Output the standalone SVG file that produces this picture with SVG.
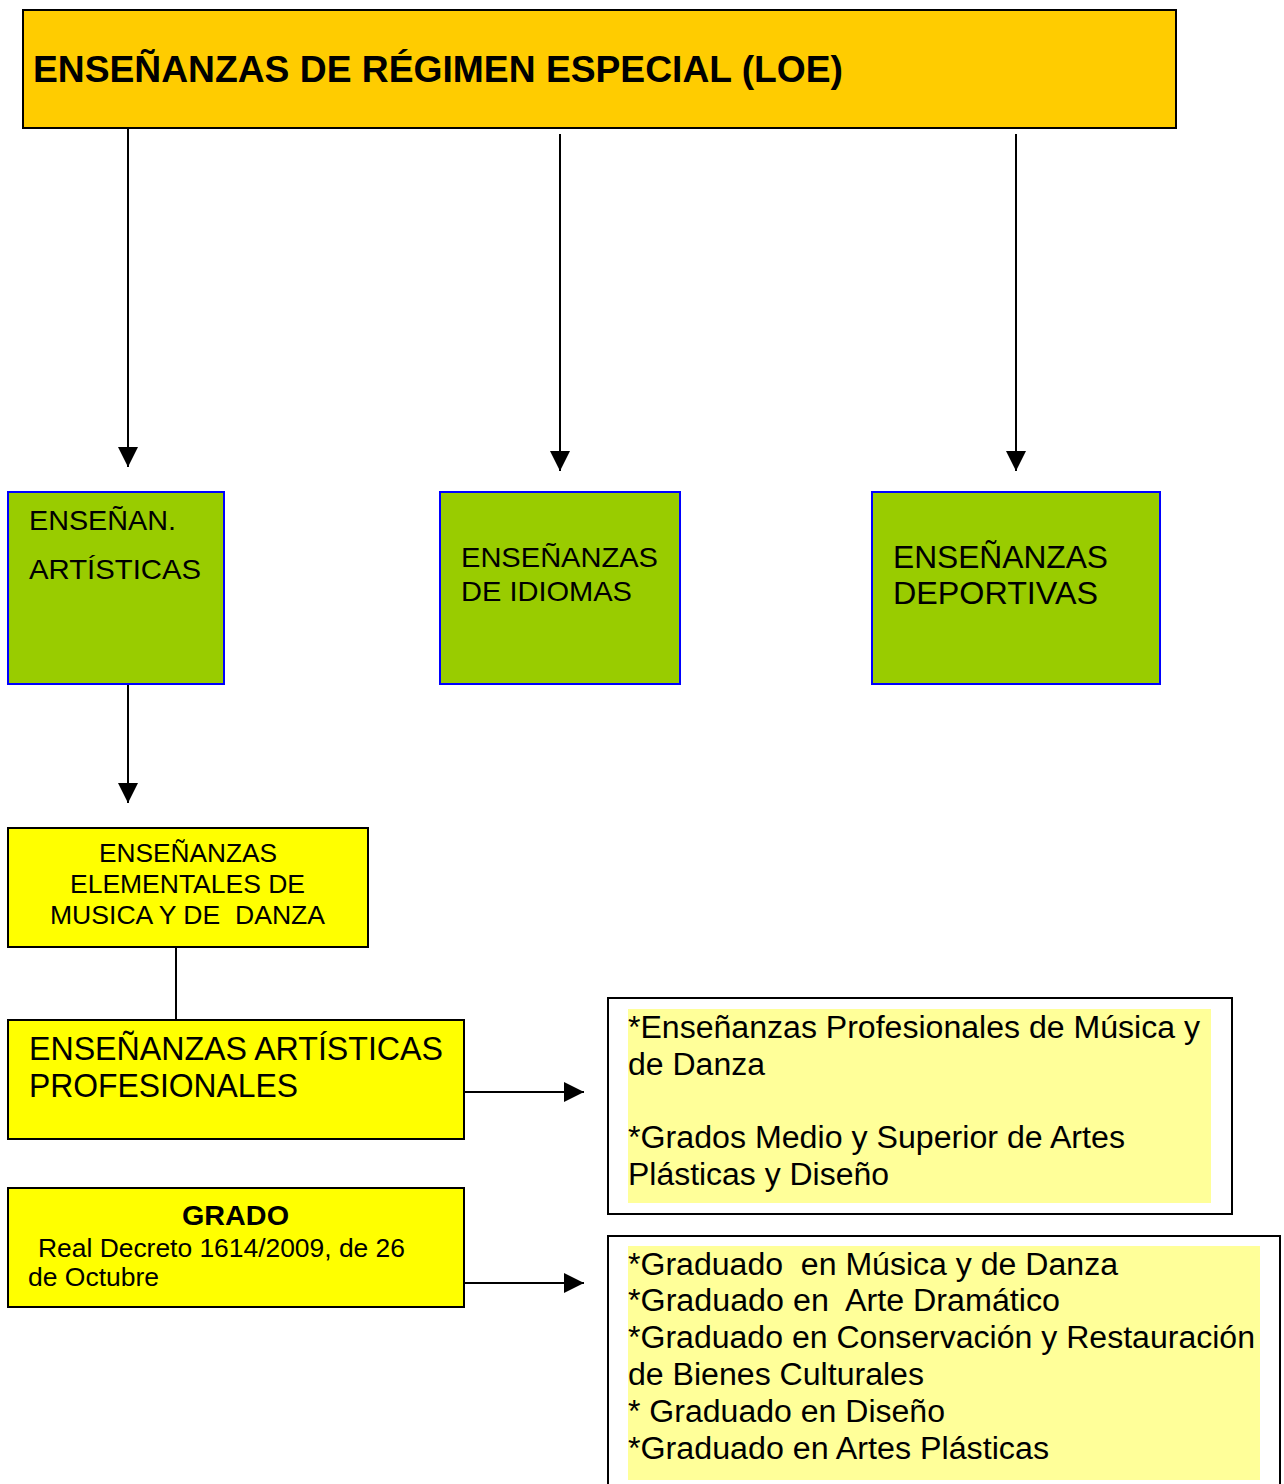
<svg xmlns="http://www.w3.org/2000/svg" width="1284" height="1484" viewBox="0 0 1284 1484">
<style>
text{font-family:"Liberation Sans",Arial,sans-serif;fill:#000}
.g{fill:#99CC00;stroke:#0000FF;stroke-width:2}
.y{fill:#FFFF00;stroke:#000;stroke-width:2}
.w{fill:#FFFFFF;stroke:#000;stroke-width:2}
.hl{fill:#FFFF99;stroke:none}
.c{stroke:#000;stroke-width:2;fill:none}
</style>
<defs>
<marker id="a" viewBox="0 0 20 20" refX="20" refY="10" markerWidth="20" markerHeight="20" markerUnits="userSpaceOnUse" orient="auto">
<path d="M0,0 L20,10 L0,20 z" fill="#000"/>
</marker>
</defs>
<rect width="1284" height="1484" fill="#fff"/>
<g id="connectors">
<line class="c" x1="128" y1="129" x2="128" y2="467" marker-end="url(#a)"/>
<line class="c" x1="560" y1="134" x2="560" y2="471" marker-end="url(#a)"/>
<line class="c" x1="1016" y1="134" x2="1016" y2="471" marker-end="url(#a)"/>
<line class="c" x1="128" y1="684" x2="128" y2="803" marker-end="url(#a)"/>
<line class="c" x1="176" y1="947" x2="176" y2="1020"/>
<line class="c" x1="464" y1="1092" x2="584" y2="1092" marker-end="url(#a)"/>
<line class="c" x1="464" y1="1283" x2="584" y2="1283" marker-end="url(#a)"/>
</g>
<g id="top">
<rect x="23" y="10" width="1153" height="118" fill="#FFCC00" stroke="#000" stroke-width="2"/>
<text x="33" y="82" font-size="36" font-weight="bold" textLength="810" lengthAdjust="spacingAndGlyphs">ENSEÑANZAS DE RÉGIMEN ESPECIAL (LOE)</text>
</g>
<g id="artisticas">
<rect class="g" x="8" y="492" width="216" height="192"/>
<text x="29" y="530" font-size="28" textLength="147" lengthAdjust="spacingAndGlyphs">ENSEÑAN.</text>
<text x="29" y="579" font-size="28" textLength="172" lengthAdjust="spacingAndGlyphs">ARTÍSTICAS</text>
</g>
<g id="idiomas">
<rect class="g" x="440" y="492" width="240" height="192"/>
<text x="461" y="567" font-size="28" textLength="197" lengthAdjust="spacingAndGlyphs">ENSEÑANZAS</text>
<text x="461" y="601" font-size="28" textLength="171" lengthAdjust="spacingAndGlyphs">DE IDIOMAS</text>
</g>
<g id="deportivas">
<rect class="g" x="872" y="492" width="288" height="192"/>
<text x="893" y="568" font-size="31" textLength="215" lengthAdjust="spacingAndGlyphs">ENSEÑANZAS</text>
<text x="893" y="604" font-size="31" textLength="205" lengthAdjust="spacingAndGlyphs">DEPORTIVAS</text>
</g>
<g id="elementales">
<rect class="y" x="8" y="828" width="360" height="119"/>
<text x="99" y="862" font-size="26" textLength="178" lengthAdjust="spacingAndGlyphs">ENSEÑANZAS</text>
<text x="70" y="893" font-size="26" textLength="235" lengthAdjust="spacingAndGlyphs">ELEMENTALES DE</text>
<text x="50" y="924" font-size="26" xml:space="preserve" textLength="275" lengthAdjust="spacingAndGlyphs">MUSICA Y DE  DANZA</text>
</g>
<g id="profesionales">
<rect class="y" x="8" y="1020" width="456" height="119"/>
<text x="29" y="1060" font-size="34" textLength="414" lengthAdjust="spacingAndGlyphs">ENSEÑANZAS ARTÍSTICAS</text>
<text x="29" y="1097" font-size="34" textLength="269" lengthAdjust="spacingAndGlyphs">PROFESIONALES</text>
</g>
<g id="grado">
<rect class="y" x="8" y="1188" width="456" height="119"/>
<text x="182" y="1225" font-size="28" font-weight="bold" textLength="107" lengthAdjust="spacingAndGlyphs">GRADO</text>
<text x="38" y="1257" font-size="25" textLength="367" lengthAdjust="spacingAndGlyphs">Real Decreto 1614/2009, de 26</text>
<text x="28" y="1286" font-size="25" textLength="131" lengthAdjust="spacingAndGlyphs">de Octubre</text>
</g>
<g id="profesionales-list">
<rect class="w" x="608" y="998" width="624" height="216"/>
<rect class="hl" x="628" y="1009" width="583" height="194"/>
<text x="628" y="1038" font-size="31" textLength="572" lengthAdjust="spacingAndGlyphs">*Enseñanzas Profesionales de Música y</text>
<text x="628" y="1075" font-size="31" textLength="137" lengthAdjust="spacingAndGlyphs">de Danza</text>
<text x="628" y="1148" font-size="31" textLength="497" lengthAdjust="spacingAndGlyphs">*Grados Medio y Superior de Artes</text>
<text x="628" y="1185" font-size="31" textLength="261" lengthAdjust="spacingAndGlyphs">Plásticas y Diseño</text>
</g>
<g id="grado-list">
<rect class="w" x="608" y="1236" width="672" height="260"/>
<rect class="hl" x="628" y="1246" width="632" height="234"/>
<text x="628" y="1275" font-size="31" xml:space="preserve" textLength="490" lengthAdjust="spacingAndGlyphs">*Graduado  en Música y de Danza</text>
<text x="628" y="1311" font-size="31" xml:space="preserve" textLength="432" lengthAdjust="spacingAndGlyphs">*Graduado en  Arte Dramático</text>
<text x="628" y="1348" font-size="31" textLength="627" lengthAdjust="spacingAndGlyphs">*Graduado en Conservación y Restauración</text>
<text x="628" y="1385" font-size="31" textLength="296" lengthAdjust="spacingAndGlyphs">de Bienes Culturales</text>
<text x="628" y="1422" font-size="31" xml:space="preserve" textLength="317" lengthAdjust="spacingAndGlyphs">* Graduado en Diseño</text>
<text x="628" y="1459" font-size="31" textLength="421" lengthAdjust="spacingAndGlyphs">*Graduado en Artes Plásticas</text>
</g>
</svg>
